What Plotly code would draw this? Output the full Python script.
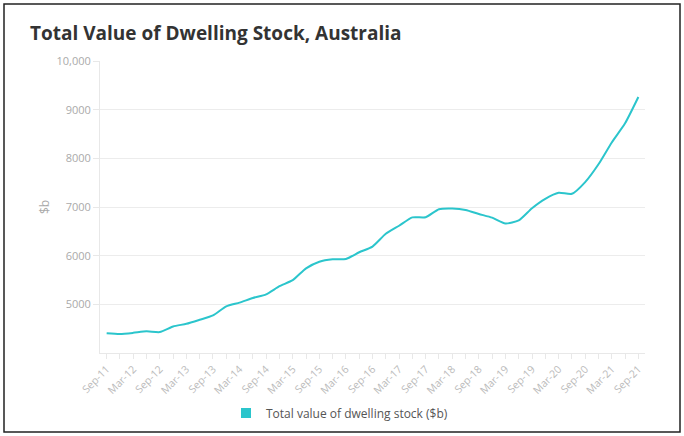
import plotly.graph_objects as go

quarters = ["Sep-11","Dec-11","Mar-12","Jun-12","Sep-12","Dec-12","Mar-13","Jun-13","Sep-13","Dec-13",
            "Mar-14","Jun-14","Sep-14","Dec-14","Mar-15","Jun-15","Sep-15","Dec-15","Mar-16","Jun-16",
            "Sep-16","Dec-16","Mar-17","Jun-17","Sep-17","Dec-17","Mar-18","Jun-18","Sep-18","Dec-18",
            "Mar-19","Jun-19","Sep-19","Dec-19","Mar-20","Jun-20","Sep-20","Dec-20","Mar-21","Jun-21","Sep-21"]
values = [4406, 4390, 4414, 4447, 4430, 4545, 4600, 4683, 4772, 4959,
          5035, 5131, 5205, 5373, 5497, 5739, 5876, 5925, 5932, 6070,
          6187, 6449, 6615, 6787, 6790, 6953, 6967, 6940, 6857, 6781,
          6663, 6725, 6975, 7168, 7292, 7271, 7512, 7878, 8327, 8720, 9260]
ytick_vals = [5000, 6000, 7000, 8000, 9000, 10000]
ytick_text = ["5000", "6000", "7000", "8000", "9000", "10,000"]
series_name = "Total value of dwelling stock ($b)"
title_text = "Total Value of Dwelling Stock, Australia"

color = "#2bc5cc"
font = "Open Sans"

x_idx = list(range(len(quarters)))

fig = go.Figure()
fig.add_trace(go.Scatter(x=x_idx, y=values, mode="lines", line=dict(color=color, width=2, shape="spline", smoothing=0.6),
                         showlegend=False, name=series_name))
fig.add_trace(go.Scatter(x=[None], y=[None], mode="markers", name=series_name,
                         marker=dict(symbol="square", size=10, color=color)))

L, T, W, H = 100, 61, 545, 292
fig.update_layout(
    width=684, height=436,
    margin=dict(l=L, r=684 - L - W, t=T, b=436 - T - H, autoexpand=False),
    paper_bgcolor="white", plot_bgcolor="white",
    font=dict(family=font, color="#aaaaaa"),
    title=dict(text="<b>" + title_text + "</b>", x=30 / 684, xref="container", xanchor="left",
               y=1 - 33 / 436, yref="container", yanchor="middle", pad=dict(l=0, r=0, t=0, b=0),
               font=dict(family=font, size=19, color="#333333")),
    xaxis=dict(range=[-0.5, 40.5], tickmode="array", tickvals=x_idx[::2], ticktext=quarters[::2],
               tickangle=-45, tickfont=dict(size=10.5, color="#bbbbbb"),
               showgrid=False, zeroline=False, showline=True, linecolor="#e8e8e8", linewidth=1,
               ticks="outside", ticklen=5, tickcolor="#e8e8e8",
               minor=dict(tickmode="array", tickvals=x_idx, ticks="outside", ticklen=5, tickcolor="#e8e8e8")),
    yaxis=dict(range=[4000, 10000], tickmode="array", tickvals=ytick_vals, ticktext=ytick_text,
               tickfont=dict(size=11, color="#aaaaaa"), showgrid=True, gridcolor="#ececec", gridwidth=1,
               zeroline=False, showline=True, linecolor="#e8e8e8", ticks="outside", ticklen=6, tickcolor="#e8e8e8",
               title=dict(text="$b", font=dict(size=12, color="#aaaaaa"), standoff=4)),
    legend=dict(orientation="h", x=226 / 684, xref="container", xanchor="left", y=1 - 413 / 436, yref="container",
                yanchor="middle", font=dict(size=12, color="#555555"), itemwidth=30,
                bgcolor="rgba(0,0,0,0)"),
    shapes=[dict(type="rect", xref="paper", yref="paper",
                 x0=(4 - L) / W, x1=(680 - L) / W, y0=(T + H - 432) / H, y1=(T + H - 4) / H,
                 line=dict(color="#222222", width=1.5), fillcolor="rgba(0,0,0,0)", layer="below")],
)

fig.write_html("out.html", config={"displayModeBar": False},
               post_script="document.body.style.margin='0';document.body.style.overflow='hidden';")
